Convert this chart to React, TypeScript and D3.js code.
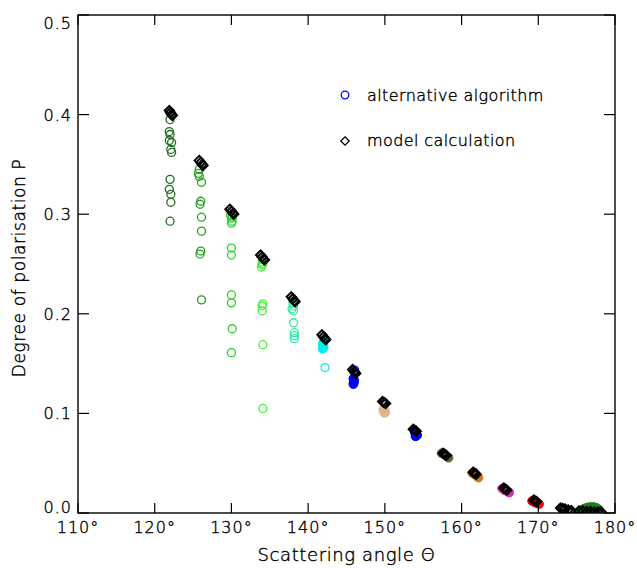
// PolarisationChart.tsx

import React from "react";
import * as d3 from "d3";

// alternative algorithm, single (open) points: [scattering angle, P]
const alt122 = [[122.0, 0.395], [121.9, 0.383], [122.0, 0.38], [121.9, 0.374], [122.2, 0.372], [122.1, 0.365], [122.2, 0.362], [122.0, 0.335], [121.9, 0.325], [122.1, 0.32], [122.1, 0.312], [122.0, 0.293]];
const alt126 = [[125.8, 0.345], [125.7, 0.341], [125.8, 0.338], [126.1, 0.332], [126.0, 0.313], [125.9, 0.31], [126.1, 0.297], [126.1, 0.283], [126.0, 0.263], [125.9, 0.26], [126.1, 0.214]];
const alt130 = [[129.9, 0.299], [130.0, 0.296], [130.1, 0.293], [130.0, 0.291], [130.1, 0.297], [130.0, 0.266], [130.0, 0.259], [130.0, 0.219], [130.0, 0.211], [130.1, 0.185], [130.0, 0.161]];
const alt134 = [[134.0, 0.252], [134.0, 0.249], [133.9, 0.247], [134.1, 0.25], [134.1, 0.21], [134.0, 0.208], [134.0, 0.203], [134.1, 0.169], [134.1, 0.105]];
const alt138 = [[138.0, 0.211], [138.1, 0.208], [137.9, 0.205], [138.1, 0.203], [138.1, 0.191], [138.2, 0.181], [138.2, 0.178], [138.2, 0.175]];
const alt142 = [[142.0, 0.171], [142.2, 0.146]];
const alt146 = [[146.05, 0.1435]];

// alternative algorithm, dense clusters (many overlapping retrievals)
const core142 = [[141.9, 0.17], [142.0, 0.168], [142.0, 0.166], [141.9, 0.165]];
const core146 = [[145.9, 0.135], [146.0, 0.133], [145.95, 0.131], [145.9, 0.1295]];
const core150 = [[149.8, 0.104], [150.0, 0.103], [149.9, 0.101], [150.0, 0.1005]];
const core154 = [[153.9, 0.081], [154.1, 0.08], [154.2, 0.078], [154.0, 0.077]];
const core158 = [[157.4, 0.06], [157.7, 0.059], [158.0, 0.057], [158.3, 0.0555]];
const core162 = [[161.4, 0.04], [161.7, 0.039], [162.0, 0.037], [162.2, 0.0355]];
const core166 = [[165.3, 0.0245], [165.6, 0.023], [165.9, 0.022], [166.2, 0.0205]];
const core170 = [[169.2, 0.012], [169.5, 0.011], [169.8, 0.01], [170.1, 0.009]];
const core174 = [[172.9, 0.005], [173.2, 0.0045], [173.5, 0.004], [173.9, 0.0035], [174.0, 0.003]];
const core177 = [[175.6, 0.003], [176.0, 0.0045], [176.4, 0.0055], [176.8, 0.006], [177.2, 0.006], [177.6, 0.005], [177.9, 0.0035]];

// model calculation
const model122 = [[121.9, 0.404], [122.05, 0.402], [122.2, 0.4], [122.3, 0.399]];
const model126 = [[125.8, 0.354], [126.0, 0.352], [126.2, 0.35], [126.3, 0.349]];
const model130 = [[129.8, 0.305], [130.0, 0.303], [130.2, 0.301], [130.3, 0.3]];
const model134 = [[133.8, 0.259], [134.0, 0.257], [134.2, 0.255], [134.3, 0.254]];
const model138 = [[137.8, 0.217], [138.0, 0.215], [138.2, 0.213], [138.3, 0.212]];
const model142 = [[141.8, 0.179], [142.0, 0.177], [142.2, 0.175], [142.3, 0.174]];
const model146 = [[145.8, 0.144], [146.0, 0.142], [146.1, 0.141], [146.2, 0.14]];
const model150 = [[149.7, 0.112], [149.9, 0.111], [150.1, 0.11]];
const model154 = [[153.7, 0.084], [153.9, 0.083], [154.1, 0.082]];
const model158 = [[157.6, 0.06], [157.8, 0.059], [158.0, 0.058]];
const model162 = [[161.5, 0.041], [161.7, 0.04], [161.9, 0.039]];
const model166 = [[165.5, 0.025], [165.7, 0.024], [165.9, 0.023]];
const model170 = [[169.4, 0.013], [169.6, 0.012], [169.8, 0.0115]];
const model174 = [[172.9, 0.005], [173.2, 0.0045], [173.5, 0.004], [173.9, 0.003], [174.3, 0.0025]];
const model177 = [[175.3, 0.002], [175.8, 0.002], [176.3, 0.0015], [176.8, 0.0015], [177.3, 0.001], [177.8, 0.001], [178.2, 0.001]];

const altOpen = [alt122, alt126, alt130, alt134, alt138, alt142, alt146, [], [], [], [], [], [], [], []];
const altCore = [[], [], [], [], [], core142, core146, core150, core154, core158, core162, core166, core170, core174, core177];
const modelGroups = [model122, model126, model130, model134, model138, model142, model146, model150, model154, model158, model162, model166, model170, model174, model177];

const xTicks = [110, 120, 130, 140, 150, 160, 170, 180];
const yTicks = [0.0, 0.1, 0.2, 0.3, 0.4, 0.5];

const groupColors = [
  "#1f6f1f", "#22a022", "#2ccf2c", "#3cf03c", "#30e8a0", "#00eeee", "#0000ee",
  "#deb887", "#0000ff", "#556b2f", "#d2781e", "#d633a8", "#ff0000", "#e8d0d0", "#1e7e1e",
];

const W = 637;
const H = 568;
const m = { left: 78, right: 615, top: 15, bottom: 513 };
const font = "'DejaVu Sans', sans-serif";

const diamond = (cx: number, cy: number, s: number) =>
  `M${cx},${cy - s}L${cx + s},${cy}L${cx},${cy + s}L${cx - s},${cy}Z`;

export default function App() {
  const x = d3.scaleLinear().domain([110, 180]).range([m.left, m.right]);
  const y = d3.scaleLinear().domain([0, 0.5]).range([m.bottom, m.top]);
  const fmt = d3.format(".1f");

  return (
    <svg
      width={W}
      height={H}
      style={{ position: "absolute", left: 0, top: 0, background: "#fff" }}
    >
      <defs>
        <clipPath id="plot">
          <rect x={m.left} y={m.top} width={m.right - m.left} height={m.bottom - m.top} />
        </clipPath>
      </defs>

      {/* points */}
      <g clipPath="url(#plot)">
        {altCore.map((g, gi) =>
          g.map((d, i) => (
            <circle
              key={`c${gi}-${i}`}
              cx={x(d[0])}
              cy={y(d[1])}
              r={4.4}
              fill={groupColors[gi]}
              stroke={groupColors[gi]}
              strokeWidth={1}
            />
          ))
        )}
        {altOpen.map((g, gi) =>
          g.map((d, i) => (
            <circle
              key={`a${gi}-${i}`}
              cx={x(d[0])}
              cy={y(d[1])}
              r={4}
              fill="none"
              stroke={groupColors[gi]}
              strokeWidth={1.3}
            />
          ))
        )}
        {modelGroups.map((g, gi) =>
          g.map((d, i) => (
            <path
              key={`m${gi}-${i}`}
              d={diamond(x(d[0]), y(d[1]), 4.6)}
              fill="none"
              stroke="#000"
              strokeWidth={2}
            />
          ))
        )}
      </g>

      {/* frame */}
      <rect
        x={m.left}
        y={m.top}
        width={m.right - m.left}
        height={m.bottom - m.top}
        fill="none"
        stroke="#000"
        strokeWidth={1.4}
      />

      <g fontFamily={font} fontWeight={200} fill="#000" stroke="#000" strokeWidth={0.4}>
        {/* x ticks, top and bottom, inward */}
        {xTicks.map((t) => (
          <g key={`xt${t}`}>
            <line x1={x(t)} x2={x(t)} y1={m.bottom} y2={m.bottom - 10} strokeWidth={1.2} />
            <line x1={x(t)} x2={x(t)} y1={m.top} y2={m.top + 10} strokeWidth={1.2} />
            <text x={x(t)} y={533} textAnchor="middle" fontSize={16} letterSpacing={1}>
              {`${t}°`}
            </text>
          </g>
        ))}

        {/* y ticks, left and right, inward */}
        {yTicks.map((t) => {
          const ty = y(t);
          const base = Math.min(Math.max(ty + 6, m.top + 13.5), m.bottom);
          return (
            <g key={`yt${t}`}>
              <line x1={m.left} x2={m.left + 11} y1={ty} y2={ty} strokeWidth={1.2} />
              <line x1={m.right} x2={m.right - 11} y1={ty} y2={ty} strokeWidth={1.2} />
              <text x={72} y={base} textAnchor="end" fontSize={16} letterSpacing={1}>
                {fmt(t)}
              </text>
            </g>
          );
        })}

        {/* axis titles */}
        <text
          x={(m.left + m.right) / 2}
          y={561}
          textAnchor="middle"
          fontSize={18}
          letterSpacing={0.6}
        >
          Scattering angle Θ
        </text>
        <text
          transform={`translate(25, ${(m.top + m.bottom) / 2 + 4}) rotate(-90)`}
          textAnchor="middle"
          fontSize={17}
          letterSpacing={0.6}
        >
          Degree of polarisation P
        </text>

        {/* legend */}
        <text x={367} y={101} fontSize={16} letterSpacing={0.4}>
          alternative algorithm
        </text>
        <text x={367} y={146} fontSize={16} letterSpacing={0.4}>
          model calculation
        </text>
      </g>
      <circle cx={345} cy={95} r={3.8} fill="none" stroke="#0000ff" strokeWidth={1.3} />
      <path d={diamond(345, 141, 4.2)} fill="none" stroke="#000" strokeWidth={1.3} />
    </svg>
  );
}
